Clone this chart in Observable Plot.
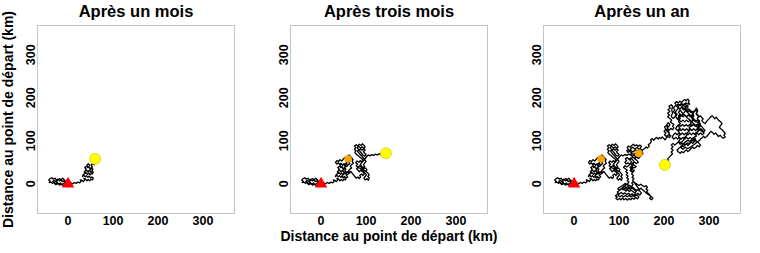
<!DOCTYPE html>
<html><head><meta charset="utf-8">
<script src="https://cdn.jsdelivr.net/npm/d3@7"></script>
<script src="https://cdn.jsdelivr.net/npm/@observablehq/plot@0.6"></script>
<style>
body{margin:0;background:#fff;}
#wrap{position:relative;width:760px;height:253px;overflow:hidden;}
.p{position:absolute;top:0;}
</style></head>
<body><div id="wrap"></div>
<script>
// Panel titles and axis
const titles = ["Après un mois", "Après trois mois", "Après un an"];
const axisLabel = "Distance au point de départ (km)";
const tickValues = [0, 100, 200, 300];
const start = [[0, 0]];

// Walk, first month (km)
const monthPath = [[0,0],[-3,4],[-7,2],[-9,7],[-13,5],[-15,9],[-19,7],[-22,11],[-26,9],[-29,13],[-33,11],[-36,14],[-40,12],[-43,9],[-40,6],[-42,3],[-38,4],[-35,1],[-31,4],[-28,0],[-24,3],[-21,-1],[-17,2],[-14,-2],[-10,1],[-7,-3],[-11,-4],[-15,-1],[-19,-3],[-23,1],[-27,-2],[-31,2],[-34,6],[-30,8],[-27,5],[-23,8],[-19,12],[-15,10],[-12,13],[-8,9],[-5,5],[-2,2],[2,-1],[6,2],[10,0],[14,3],[18,1],[22,4],[26,2],[29,6],[27,9],[31,8],[34,5],[37,9],[35,13],[39,11],[42,7],[45,10],[48,7],[51,11],[54,9],[56,13],[53,16],[50,14],[47,18],[44,15],[41,19],[38,16],[35,20],[32,17],[34,22],[38,24],[36,28],[40,26],[43,22],[46,25],[49,21],[52,24],[50,28],[47,31],[44,28],[41,32],[38,30],[40,35],[37,38],[41,41],[44,38],[42,44],[45,47],[48,43],[46,39],[49,35],[52,38],[55,34],[53,30],[56,27],[54,23],[51,27],[48,31],[51,34],[54,40],[51,44],[55,47],[58,44],[56,50],[59,53],[57,56],[60,58]];
// Walk, months two and three
const quarterPath = [[63,55],[61,51],[64,47],[60,44],[57,40],[54,43],[51,47],[48,44],[44,48],[41,45],[38,49],[35,46],[32,50],[35,54],[39,52],[42,56],[46,53],[49,57],[52,61],[56,58],[59,63],[62,67],[65,64],[68,60],[71,56],[69,52],[72,48],[68,45],[65,41],[68,37],[64,34],[61,30],[64,26],[60,23],[56,20],[59,16],[55,13],[52,17],[49,14],[46,18],[49,22],[52,26],[56,24],[59,28],[62,25],[66,29],[69,25],[72,21],[75,17],[78,13],[82,16],[85,12],[88,16],[86,20],[90,23],[93,19],[96,23],[94,27],[98,25],[101,21],[98,17],[95,13],[98,9],[102,12],[105,8],[107,13],[104,17],[107,21],[104,25],[100,29],[96,31],[92,28],[88,32],[85,28],[82,32],[79,35],[82,39],[86,42],[90,38],[94,34],[98,37],[102,33],[99,29],[94,31],[89,35],[84,37],[78,42],[81,46],[77,49],[80,53],[84,50],[87,54],[90,51],[93,55],[90,59],[86,62],[82,66],[78,69],[75,73],[78,77],[74,80],[77,84],[74,88],[78,91],[82,88],[85,92],[89,89],[92,93],[95,90],[98,86],[95,82],[98,78],[94,75],[97,71],[100,68],[97,64],[93,67],[90,71],[87,75],[84,79],[80,84],[84,87],[88,83],[92,86],[95,82],[91,78],[87,81],[81,76],[84,72],[87,68],[91,64],[94,60],[97,56],[100,52],[97,48],[94,44],[97,40],[93,37],[90,41],[87,45],[90,49],[93,52],[96,56],[99,60],[102,64],[105,67],[109,65],[113,68],[117,66],[121,69],[125,67],[129,70],[133,68],[137,72],[141,70],[144,71]];
// Walk, rest of the year
const yearPath = [[147,75],[150,79],[147,83],[150,87],[146,90],[142,87],[139,91],[135,88],[132,92],[128,89],[125,85],[121,88],[118,84],[121,80],[117,77],[120,73],[126,78],[131,74],[136,79],[141,76],[145,81],[140,84],[135,81],[130,85],[126,81],[122,77],[124,75],[128,72],[125,68],[129,64],[133,67],[137,63],[134,59],[139,55],[143,50],[138,47],[133,51],[129,47],[134,43],[138,40],[133,37],[128,41],[124,38],[129,34],[134,31],[130,27],[125,30],[127,36],[131,44],[133,52],[130,56],[126,60],[122,57],[118,61],[114,58],[117,54],[113,50],[116,46],[120,49],[124,46],[121,42],[117,39],[113,42],[110,38],[114,35],[118,32],[115,28],[119,25],[116,21],[120,18],[117,14],[121,11],[118,7],[122,4],[119,0],[115,-3],[111,-6],[107,-9],[104,-13],[100,-16],[96,-19],[99,-22],[95,-25],[92,-28],[96,-31],[93,-34],[97,-37],[101,-34],[104,-37],[108,-33],[111,-37],[115,-34],[119,-38],[122,-34],[126,-37],[129,-33],[133,-36],[137,-32],[141,-35],[144,-31],[141,-27],[137,-24],[133,-27],[129,-23],[125,-26],[121,-22],[117,-25],[113,-21],[109,-24],[105,-20],[101,-23],[98,-27],[102,-30],[106,-27],[110,-30],[114,-27],[118,-30],[122,-27],[126,-30],[130,-27],[134,-30],[138,-27],[142,-22],[146,-26],[150,-21],[146,-17],[141,-13],[137,-17],[133,-13],[129,-9],[125,-13],[121,-10],[117,-13],[113,-10],[109,-14],[105,-11],[101,-15],[97,-12],[101,-8],[106,-5],[110,-2],[114,1],[118,-2],[124,-4],[130,-8],[135,-12],[139,-16],[135,-22],[131,-18],[127,-15],[123,-18],[119,-14],[115,-17],[111,-13],[108,-9],[112,-6],[116,-9],[120,-6],[124,-9],[128,-6],[131,-2],[128,2],[132,5],[136,2],[140,-1],[144,-4],[148,-1],[152,-4],[156,-7],[160,-4],[163,-8],[160,-12],[164,-15],[161,-19],[165,-22],[168,-26],[171,-30],[168,-34],[172,-37],[175,-34],[172,-30],[168,-27],[164,-24],[160,-21],[156,-17],[152,-14],[149,-10],[145,-13],[142,-9],[139,-5],[136,0],[133,4],[130,8],[133,12],[129,15],[132,19],[128,23],[131,27],[127,31],[130,35],[126,39],[129,43],[125,47],[128,51],[124,55],[127,59],[131,62],[135,58],[139,62],[143,59],[147,63],[150,67],[153,71],[150,75],[153,79],[157,82],[160,86],[163,83],[167,87],[165,91],[169,94],[172,98],[170,102],[174,105],[177,101],[180,105],[184,108],[187,104],[190,108],[193,105],[196,109],[199,106],[202,102],[205,106],[208,110],[212,108],[215,112],[210,114],[205,110],[201,114],[204,118],[200,122],[204,127],[201,132],[206,136],[210,132],[213,138],[209,142],[206,137],[208,128],[212,116],[209,120],[205,124],[208,128],[212,125],[215,129],[219,126],[222,130],[219,134],[222,138],[218,141],[214,144],[217,148],[213,152],[208,156],[212,160],[208,164],[213,168],[209,172],[214,176],[211,180],[216,184],[219,180],[217,172],[219,164],[216,158],[217,155],[221,152],[224,156],[227,160],[224,164],[221,168],[224,172],[221,176],[224,180],[227,184],[224,188],[228,191],[232,188],[235,192],[239,189],[242,193],[246,196],[249,193],[253,197],[256,193],[254,189],[257,185],[252,186],[248,188],[244,184],[240,186],[236,182],[231,185],[228,180],[232,176],[228,171],[225,166],[229,162],[226,156],[230,150],[235,155],[240,160],[245,166],[249,172],[253,178],[253,182],[249,179],[246,175],[249,171],[252,167],[256,170],[259,166],[262,169],[265,165],[268,168],[271,171],[274,167],[271,163],[274,159],[277,155],[281,158],[284,154],[287,151],[284,147],[287,143],[291,140],[294,144],[297,148],[300,151],[303,155],[307,158],[310,155],[313,151],[316,155],[319,151],[322,147],[326,144],[329,140],[326,136],[323,132],[326,128],[330,125],[333,121],[336,117],[333,113],[336,109],[332,106],[328,109],[325,113],[321,110],[318,114],[315,118],[311,115],[308,119],[304,122],[301,118],[298,114],[295,110],[291,107],[288,111],[285,107],[281,104],[278,100],[274,97],[271,101],[267,98],[264,94],[260,97],[257,93],[253,89],[250,93],[246,90],[243,86],[239,89],[236,85],[232,82],[229,78],[232,74],[236,71],[239,75],[243,72],[246,76],[250,79],[253,75],[257,78],[260,82],[264,85],[267,82],[271,85],[274,89],[278,86],[281,90],[278,94],[274,98],[268,92],[262,88],[257,84],[252,82],[247,85],[242,80],[238,84],[242,92],[247,97],[252,101],[257,99],[262,102],[268,100],[270,104],[266,108],[262,104],[258,108],[254,104],[250,108],[246,104],[242,108],[238,104],[234,108],[230,104],[226,108],[222,104],[218,108],[221,114],[225,118],[229,114],[233,118],[237,114],[241,118],[245,114],[249,118],[253,114],[257,118],[261,114],[265,118],[269,114],[273,118],[277,114],[281,118],[285,114],[289,118],[286,124],[282,128],[278,124],[274,128],[270,124],[266,128],[262,124],[258,128],[254,124],[250,128],[246,124],[242,128],[238,124],[234,128],[230,124],[226,128],[229,134],[233,138],[237,134],[241,138],[245,134],[249,138],[253,134],[257,138],[261,134],[265,138],[269,134],[273,138],[277,134],[281,138],[278,144],[274,148],[270,144],[266,148],[262,144],[258,148],[254,144],[250,148],[246,144],[242,148],[238,144],[234,148],[230,152],[234,156],[238,160],[242,156],[246,160],[250,156],[254,160],[258,156],[262,160],[266,156],[263,164],[259,170],[255,174],[251,170],[247,176],[243,172],[239,178],[235,174],[231,178],[234,183],[238,186],[242,182],[246,186],[250,182],[247,178],[243,183],[239,179],[243,176],[248,170],[253,165],[258,160],[263,154],[268,149],[273,144],[278,139],[283,134],[287,129],[291,124],[287,120],[282,124],[277,129],[272,134],[267,139],[262,143],[257,149],[252,153],[247,158],[242,163],[238,168],[236,172],[232,166],[236,162],[232,158],[236,152],[232,146],[236,140],[232,134],[236,128],[232,122],[236,116],[232,110],[236,104],[232,98],[238,96],[243,101],[245,107],[250,112],[252,119],[257,124],[256,131],[261,136],[259,143],[264,148],[261,154],[266,159],[264,166],[269,171],[272,176],[275,170],[272,163],[277,158],[274,151],[279,146],[276,139],[280,133],[274,129],[276,122],[270,118],[272,111],[266,108],[266,101],[260,99],[257,94],[251,95],[247,91],[241,94],[236,92],[232,97],[228,94],[224,90],[220,94],[216,90],[220,86],[216,82],[220,78],[216,74],[219,70],[215,66],[212,62],[208,58],[210,54],[206,50],[204,47],[202,44]];

const monthEnd = [monthPath[monthPath.length - 1]];
const quarterEnd = [quarterPath[quarterPath.length - 1]];
const yearEnd = [yearPath[yearPath.length - 1]];

const panels = [
  {title: titles[0], path: monthPath, mids: [], end: monthEnd, ylab: true, xlab: false},
  {title: titles[1], path: monthPath.concat(quarterPath), mids: monthEnd, end: quarterEnd, ylab: false, xlab: true},
  {title: titles[2], path: monthPath.concat(quarterPath, yearPath), mids: monthEnd.concat(quarterEnd), end: yearEnd, ylab: false, xlab: false}
];
const lefts = [0, 253, 506];
const font = "Liberation Sans, Arial, Helvetica, sans-serif";

panels.forEach((p, i) => {
  const marks = [
    Plot.frame({stroke: "#c4c4c4"}),
    Plot.axisX({ticks: tickValues, tickSize: 3, tickPadding: 0, stroke: "#e0e0e0", fill: "black", fontSize: 12.5, fontWeight: "bold", label: null}),
    Plot.axisY({ticks: tickValues, tickSize: 3, tickPadding: 0, stroke: "#e0e0e0", fill: "black", rotate: -90, textAnchor: "middle", lineAnchor: "bottom", fontSize: 12.5, fontWeight: "bold", label: null}),
    Plot.line(p.path, {x: d => d[0], y: d => d[1], stroke: "black", strokeWidth: 1.3, strokeLinejoin: "round"}),
    Plot.dot(p.mids, {x: d => d[0], y: d => d[1], r: 3.6, fill: "#FFA500", stroke: "#e69500", strokeWidth: 0.5}),
    Plot.dot(p.end, {x: d => d[0], y: d => d[1], r: 5.5, fill: "#FFFF00", stroke: "#c9c900", strokeWidth: 0.7}),
    Plot.dot(start, {x: d => d[0], y: d => d[1], r: 4.6, symbol: "triangle", fill: "#FF0000", stroke: "none"}),
    Plot.text([p.title], {frameAnchor: "top", lineAnchor: "middle", dy: -14, fontSize: 16.5, fontWeight: "bold", fill: "black"})
  ];
  if (p.xlab) marks.push(Plot.text([axisLabel], {frameAnchor: "bottom", lineAnchor: "middle", dy: 23, fontSize: 14, fontWeight: "bold", fill: "black"}));
  if (p.ylab) marks.push(Plot.text([axisLabel], {frameAnchor: "left", textAnchor: "middle", lineAnchor: "middle", dx: -29, rotate: -90, fontSize: 14, fontWeight: "bold", fill: "black"}));
  const chart = Plot.plot({
    width: 254, height: 253,
    marginLeft: 37, marginRight: 20, marginTop: 25, marginBottom: 40,
    x: {domain: [-68, 370]},
    y: {domain: [-69, 368]},
    style: {fontFamily: font, background: "white", overflow: "visible"},
    marks
  });
  const d = document.createElement("div");
  d.className = "p";
  d.style.left = lefts[i] + "px";
  d.appendChild(chart);
  document.getElementById("wrap").appendChild(d);
});
</script></body></html>
